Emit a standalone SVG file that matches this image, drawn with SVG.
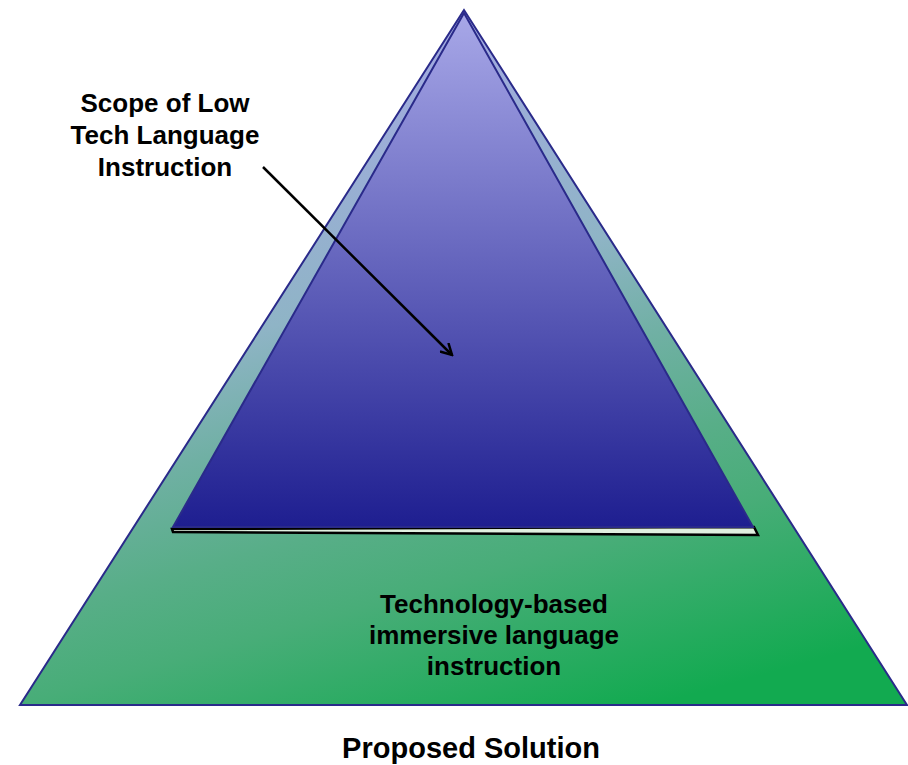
<svg xmlns="http://www.w3.org/2000/svg" width="908" height="765" viewBox="0 0 908 765">
<defs>
<linearGradient id="gOuter" x1="400" y1="0" x2="600" y2="720" gradientUnits="userSpaceOnUse">
<stop offset="0" stop-color="#a6a8e6"/>
<stop offset="0.375" stop-color="#8fb4c6"/>
<stop offset="0.52" stop-color="#70b0a4"/>
<stop offset="0.66" stop-color="#58ae88"/>
<stop offset="0.77" stop-color="#48ad78"/>
<stop offset="1" stop-color="#12aa50"/>
</linearGradient>
<linearGradient id="gInner" x1="0" y1="12" x2="0" y2="527" gradientUnits="userSpaceOnUse">
<stop offset="0" stop-color="#a8a8e8"/>
<stop offset="1" stop-color="#1e1e90"/>
</linearGradient>
<marker id="arr" markerWidth="14" markerHeight="14" refX="12" refY="7" orient="auto" markerUnits="userSpaceOnUse">
<path d="M1,1 L12,7 L1,13" fill="none" stroke="#000" stroke-width="2.5"/>
</marker>
<style>
.t{font-family:"Liberation Sans",Arial,sans-serif;font-weight:bold;font-size:26px;fill:#000;text-anchor:middle}
.tri{stroke:#2a2a8a;stroke-width:2}
</style>
</defs>
<g id="outer">
<polygon class="tri" points="464,10 20,705 907,705" fill="url(#gOuter)"/>
</g>
<g id="inner">
<polygon points="172,529 173,532 758,535 754,527" fill="#e0f0e0" stroke="#000" stroke-width="2.5"/>
<polygon class="tri" points="464,13 173,527 753,527" fill="url(#gInner)"/>
</g>
<g id="connectors">
<line x1="263" y1="167" x2="452" y2="355" stroke="#000" stroke-width="2.5" marker-end="url(#arr)"/>
</g>
<g id="label-scope">
<text class="t" x="165" y="112">Scope of Low</text>
<text class="t" x="165" y="144">Tech Language</text>
<text class="t" x="165" y="176">Instruction</text>
</g>
<g id="label-tech">
<text class="t" x="494" y="613">Technology-based</text>
<text class="t" x="494" y="644">immersive language</text>
<text class="t" x="494" y="675">instruction</text>
</g>
<g id="title">
<text class="t" x="471" y="758" style="font-size:29px">Proposed Solution</text>
</g>
</svg>
